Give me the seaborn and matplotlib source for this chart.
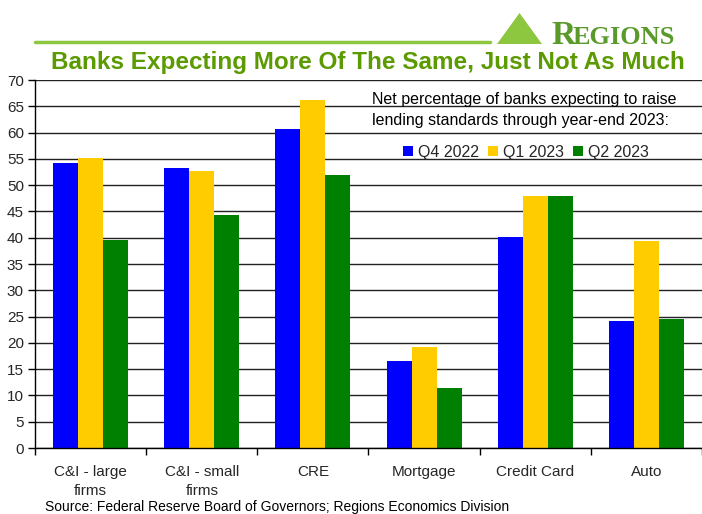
import matplotlib
matplotlib.use("Agg")
import matplotlib.pyplot as plt
import matplotlib.patches as mpatches
from matplotlib.ticker import FixedLocator
import seaborn as sns
import pandas as pd

categories = ["C&I - large\nfirms", "C&I - small\nfirms", "CRE", "Mortgage", "Credit Card", "Auto"]
q4_2022 = [54.2, 53.3, 60.7, 16.5, 40.1, 24.2]
q1_2023 = [55.2, 52.7, 66.2, 19.2, 47.9, 39.4]
q2_2023 = [39.6, 44.3, 51.9, 11.4, 47.9, 24.5]
series_names = ["Q4 2022", "Q1 2023", "Q2 2023"]
colors = ["#0000FF", "#FFCC00", "#008000"]
yticks = list(range(0, 75, 5))

rows = []
for name, vals in zip(series_names, [q4_2022, q1_2023, q2_2023]):
    for c, v in zip(categories, vals):
        rows.append({"category": c, "quarter": name, "value": v})
df = pd.DataFrame(rows)

sns.set_style("white")
plt.rcParams["font.family"] = ["Liberation Sans", "DejaVu Sans"]

fig = plt.figure(figsize=(7.02, 5.14), dpi=100)
ax = fig.add_axes([35 / 702, (514 - 448) / 514, 1 - 35 / 702, (448 - 80) / 514])

sns.barplot(data=df, x="category", y="value", hue="quarter", order=categories,
            hue_order=series_names, palette=colors, width=0.675, gap=0,
            saturation=1, ax=ax, legend=False, edgecolor="none", errorbar=None)

ax.set_ylim(0, 70)
ax.set_xlim(-0.5, 5.5)
ax.set_yticks(yticks)
ax.set_yticklabels([str(t) for t in yticks], fontsize=11)
ax.yaxis.grid(True, color="#222222", linewidth=1.0)
ax.set_axisbelow(True)
ax.set_xlabel("")
ax.set_ylabel("")
for s in ["top", "right"]:
    ax.spines[s].set_visible(False)
ax.spines["left"].set_color("black")
ax.spines["bottom"].set_color("black")
ax.spines["left"].set_linewidth(1)
ax.spines["bottom"].set_linewidth(1)
ax.tick_params(axis="y", which="major", direction="out", length=5, width=1, color="black", pad=3, left=True)
ax.tick_params(axis="x", which="major", length=0, pad=12, labelsize=11)
ax.xaxis.set_minor_locator(FixedLocator([i + 0.5 for i in range(-1, 6)]))
ax.tick_params(axis="x", which="minor", direction="out", length=5, width=1, color="black", bottom=True)
ax.set_xticks(range(len(categories)))
ax.set_xticklabels(categories, fontsize=11, linespacing=1.5)

# Title
fig.text(368 / 702, 1 - 62 / 514, "Banks Expecting More Of The Same, Just Not As Much",
         ha="center", va="center", fontsize=17.5, fontweight="bold", color="#5B9A00")

# Top green rule
fig.add_artist(plt.Line2D([35 / 702, 490 / 702], [1 - 42 / 514, 1 - 42 / 514],
                          color="#8DC63F", linewidth=2.5, transform=fig.transFigure))

# Logo: triangle + REGIONS
tri = mpatches.Polygon([(497 / 702, 1 - 44 / 514), (542 / 702, 1 - 44 / 514), (519.5 / 702, 1 - 13 / 514)],
                       closed=True, transform=fig.transFigure, facecolor="#8DC63F", edgecolor="none")
fig.add_artist(tri)
fig.text(551 / 702, 1 - 44 / 514, "R", ha="left", va="baseline", fontsize=24, fontweight="bold",
         color="#5A9A2A", family="Liberation Serif")
fig.text(573 / 702, 1 - 44 / 514, "EGIONS", ha="left", va="baseline", fontsize=19, fontweight="bold",
         color="#5A9A2A", family="Liberation Serif")

# Annotation
fig.text(372 / 702, 1 - 110 / 514,
         "Net percentage of banks expecting to raise\nlending standards through year-end 2023:",
         ha="left", va="center", fontsize=11.5, color="black", linespacing=1.45)

handles = [mpatches.Patch(facecolor=c, edgecolor="none", label=n) for c, n in zip(colors, series_names)]
fig.legend(handles=handles, loc="center", bbox_to_anchor=(526 / 702, 1 - 152 / 514), ncol=3,
           frameon=False, fontsize=11.5, handlelength=0.6, handleheight=0.6, handletextpad=0.3,
           columnspacing=0.6)

# Source
fig.text(45 / 702, 1 - 507 / 514, "Source: Federal Reserve Board of Governors; Regions Economics Division",
         ha="left", va="center", fontsize=10, color="black")

fig.savefig("out.png", dpi=100)
